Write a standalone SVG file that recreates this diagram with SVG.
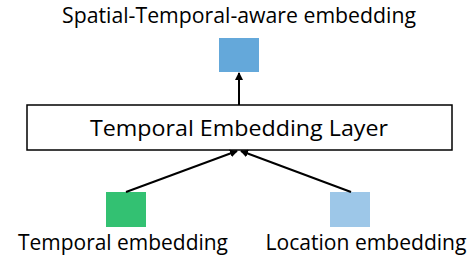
<svg xmlns="http://www.w3.org/2000/svg" width="471" height="267" viewBox="0 0 471 267">
<style>
text{font-family:"Open Sans","Noto Sans",sans-serif;fill:#000;font-size:21px}
.c{stroke:#000;stroke-width:2;fill:none}
</style>
<defs>
<marker id="ah" markerWidth="8" markerHeight="8" refX="7" refY="4" orient="auto" markerUnits="userSpaceOnUse">
<path d="M0,0 L8,4 L0,8 Z" fill="#000"/>
</marker>
</defs>
<rect width="471" height="267" fill="#fff"/>
<g id="output">
<text x="239" y="23" text-anchor="middle" textLength="354" lengthAdjust="spacingAndGlyphs">Spatial-Temporal-aware embedding</text>
<rect x="219" y="38" width="40" height="34" fill="#64A8DA"/>
</g>
<g id="layer">
<rect x="27" y="105" width="425" height="45" fill="#fff" stroke="#000" stroke-width="1.5"/>
<text x="239" y="136" text-anchor="middle" font-size="23" textLength="298" lengthAdjust="spacingAndGlyphs">Temporal Embedding Layer</text>
</g>
<g id="temporal">
<rect x="106" y="192" width="40" height="35" fill="#33C172"/>
<text x="123" y="250" text-anchor="middle" textLength="210" lengthAdjust="spacingAndGlyphs">Temporal embedding</text>
</g>
<g id="location">
<rect x="330" y="192" width="40" height="35" fill="#9DC7E8"/>
<text x="366" y="250" text-anchor="middle" textLength="201" lengthAdjust="spacingAndGlyphs">Location embedding</text>
</g>
<g id="connectors">
<line class="c" x1="239" y1="105" x2="239" y2="73" marker-end="url(#ah)"/>
<line class="c" x1="126" y1="192" x2="237" y2="151" marker-end="url(#ah)"/>
<line class="c" x1="351" y1="192" x2="241" y2="151" marker-end="url(#ah)"/>
</g>
</svg>
